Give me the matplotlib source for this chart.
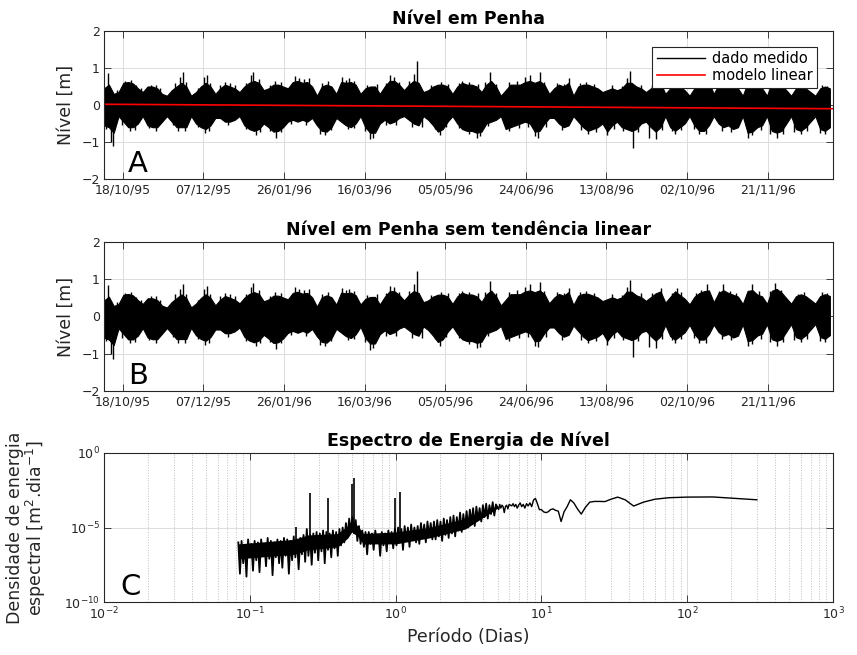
import datetime as dt
import numpy as np
import matplotlib
matplotlib.use('Agg')
import matplotlib.pyplot as plt
import matplotlib.dates as mdates
from matplotlib.lines import Line2D
from matplotlib.ticker import LogLocator, NullLocator

plt.rcParams['font.family'] = ['DejaVu Sans']
plt.rcParams['mathtext.fontset'] = 'dejavusans'

# --- sea level at Penha (m)
# envelope of the tidal band, one high/low pair every 3 days
record_start = dt.datetime(1995, 10, 6, 12)
record_days = 452
step_days = 3
level_max = [0.45, 0.55, 0.3, 0.35, 0.6, 0.62, 0.58, 0.45, 0.35, 0.5,
             0.5, 0.45, 0.3, 0.25, 0.4, 0.5, 0.6, 0.5, 0.25, 0.35,
             0.5, 0.6, 0.5, 0.3, 0.45, 0.55, 0.5, 0.45, 0.35, 0.5,
             0.6, 0.65, 0.6, 0.4, 0.45, 0.55, 0.55, 0.5, 0.45, 0.62,
             0.65, 0.6, 0.62, 0.5, 0.25, 0.5, 0.55, 0.5, 0.3, 0.62,
             0.6, 0.62, 0.55, 0.3, 0.45, 0.5, 0.5, 0.3, 0.5, 0.65,
             0.65, 0.55, 0.4, 0.55, 0.65, 0.6, 0.35, 0.4, 0.5, 0.55,
             0.55, 0.5, 0.3, 0.5, 0.6, 0.55, 0.55, 0.5, 0.35, 0.55,
             0.65, 0.5, 0.25, 0.4, 0.55, 0.55, 0.55, 0.62, 0.65, 0.6,
             0.65, 0.55, 0.3, 0.45, 0.55, 0.5, 0.6, 0.25, 0.5, 0.55,
             0.55, 0.5, 0.45, 0.35, 0.4, 0.45, 0.4, 0.45, 0.6, 0.6,
             0.5, 0.45, 0.35, 0.45, 0.55, 0.6, 0.3, 0.45, 0.6, 0.5,
             0.4, 0.25, 0.45, 0.55, 0.6, 0.62, 0.3, 0.55, 0.62, 0.55,
             0.5, 0.45, 0.25, 0.6, 0.62, 0.5, 0.45, 0.25, 0.6, 0.65,
             0.55, 0.4, 0.25, 0.45, 0.5, 0.45, 0.35, 0.25, 0.45, 0.5,
             0.45]
level_min = [-0.55, -0.6, -0.75, -0.3, -0.45, -0.6, -0.6, -0.5, -0.3, -0.55,
             -0.6, -0.6, -0.45, -0.3, -0.45, -0.6, -0.6, -0.6, -0.3, -0.5,
             -0.6, -0.65, -0.55, -0.35, -0.35, -0.45, -0.45, -0.4, -0.3, -0.55,
             -0.65, -0.7, -0.65, -0.5, -0.6, -0.72, -0.7, -0.6, -0.45, -0.4,
             -0.45, -0.4, -0.45, -0.35, -0.55, -0.7, -0.72, -0.6, -0.35, -0.45,
             -0.55, -0.6, -0.5, -0.3, -0.6, -0.75, -0.75, -0.5, -0.4, -0.5,
             -0.45, -0.35, -0.3, -0.4, -0.5, -0.55, -0.3, -0.4, -0.55, -0.72,
             -0.65, -0.45, -0.3, -0.5, -0.65, -0.7, -0.7, -0.75, -0.72, -0.5,
             -0.45, -0.4, -0.3, -0.65, -0.6, -0.55, -0.5, -0.45, -0.5, -0.72,
             -0.7, -0.5, -0.35, -0.35, -0.5, -0.6, -0.55, -0.3, -0.45, -0.6,
             -0.7, -0.65, -0.6, -0.5, -0.72, -0.55, -0.45, -0.6, -0.65, -0.7,
             -0.65, -0.5, -0.45, -0.6, -0.72, -0.6, -0.3, -0.6, -0.7, -0.6,
             -0.5, -0.3, -0.55, -0.7, -0.7, -0.55, -0.3, -0.5, -0.6, -0.55,
             -0.65, -0.6, -0.3, -0.75, -0.72, -0.6, -0.55, -0.3, -0.7, -0.75,
             -0.7, -0.5, -0.3, -0.65, -0.7, -0.6, -0.45, -0.3, -0.65, -0.7,
             -0.6]
# single high and low tides reaching out of the band (day from start, m)
high_day = [2.5, 8, 13, 17, 20, 23, 29, 32, 35, 44,
            47, 48.8, 51, 58, 62, 63.7, 66, 72, 75, 78,
            81, 88, 91, 92.5, 96, 103, 106, 110, 118.5, 121,
            124, 127, 135, 139, 147.5, 150, 152, 155, 163, 169,
            175, 177, 180, 183, 189, 192, 194.3, 203, 209, 213,
            220, 222, 226, 232, 236, 239.5, 243, 251, 256, 261,
            264, 270, 273, 281, 285, 288, 295, 299, 304, 315,
            321, 324, 326.3, 333, 340, 345, 352, 355, 358, 367,
            370, 374, 381, 384, 388, 392, 401.5, 406, 413, 416,
            420, 430, 434, 445, 448]
high_level = [0.86, 0.4, 0.65, 0.68, 0.55, 0.45, 0.55, 0.55, 0.45, 0.6,
              0.75, 0.88, 0.62, 0.45, 0.75, 0.82, 0.6, 0.55, 0.62, 0.6,
              0.55, 0.6, 0.8, 0.9, 0.7, 0.55, 0.65, 0.62, 0.78, 0.72,
              0.7, 0.72, 0.6, 0.65, 0.75, 0.68, 0.72, 0.65, 0.55, 0.58,
              0.6, 0.8, 0.75, 0.62, 0.65, 0.85, 1.2, 0.55, 0.62, 0.58,
              0.6, 0.65, 0.62, 0.58, 0.62, 0.9, 0.58, 0.62, 0.65, 0.75,
              0.82, 0.88, 0.62, 0.6, 0.58, 0.72, 0.6, 0.62, 0.58, 0.55,
              0.52, 0.72, 0.92, 0.55, 0.55, 0.68, 0.55, 0.68, 0.58, 0.55,
              0.62, 0.78, 0.6, 0.78, 0.6, 0.55, 0.78, 0.6, 0.6, 0.82,
              0.62, 0.52, 0.55, 0.55, 0.52]
low_day = [1, 4.5, 5.6, 11, 16, 19, 28, 32, 43, 46,
           50, 58, 62.5, 65, 77, 88, 94, 97, 103, 106.7,
           110, 116, 125, 134, 137, 141, 151, 155, 162, 165,
           167, 175, 181, 191, 197, 205, 208, 212, 220, 226,
           231, 233, 238, 251, 257, 263, 267, 269, 274, 284,
           296, 300, 305, 312, 316, 322, 328, 331, 338, 342,
           346, 352, 354, 358, 366, 369, 373, 383, 389, 399,
           402, 407, 413, 417, 421, 428, 432, 436, 444, 447]
low_level = [-0.65, -1.0, -1.12, -0.55, -0.7, -0.68, -0.62, -0.7, -0.55, -0.7,
             -0.7, -0.6, -0.75, -0.7, -0.55, -0.65, -0.8, -0.72, -0.7, -0.88,
             -0.72, -0.5, -0.55, -0.78, -0.82, -0.68, -0.65, -0.62, -0.7, -0.92,
             -0.88, -0.55, -0.55, -0.6, -0.6, -0.65, -0.82, -0.6, -0.62, -0.78,
             -0.88, -0.85, -0.58, -0.7, -0.62, -0.6, -0.85, -0.88, -0.6, -0.68,
             -0.68, -0.78, -0.72, -0.82, -0.65, -0.7, -1.15, -0.72, -0.88, -0.92,
             -0.68, -0.7, -0.78, -0.68, -0.65, -0.78, -0.78, -0.7, -0.72, -0.88,
             -0.82, -0.68, -0.78, -0.88, -0.78, -0.72, -0.78, -0.7, -0.75, -0.78]
trend_ends = [0.02, -0.10]   # linear model at start and end of record (m)

tick_dates = ['18/10/95', '07/12/95', '26/01/96', '16/03/96', '05/05/96',
              '24/06/96', '13/08/96', '02/10/96', '21/11/96']

# --- energy spectrum, log10 of density (m^2.dia^-1)
# high-frequency part, log-spaced periods from 2 h to 5 days
fast_first, fast_last = 300.0 / 3600, 5.0
fast_level = [-6.0, -8.1, -5.9, -7.4, -6.2, -8.3, -5.8, -7.0, -6.1, -7.9,
              -5.9, -7.2, -6.0, -8.0, -5.8, -6.9, -6.1, -7.6, -5.7, -7.1,
              -5.9, -8.2, -6.0, -7.0, -5.8, -7.4, -5.9, -7.7, -5.7, -6.9,
              -5.8, -8.1, -5.9, -7.2, -5.6, -7.0, -5.8, -7.8, -5.7, -6.8,
              -5.5, -7.3, -5.1, -6.9, -5.5, -7.5, -5.4, -6.7, -5.3, -7.2,
              -5.4, -6.6, -5.2, -7.4, -5.3, -6.5, -5.4, -7.0, -5.2, -6.4,
              -5.3, -6.9, -5.1, -6.2, -5.0, -6.0, -4.7, -5.6, -4.4, -5.3,
              -4.3, -5.4, -4.5, -5.9, -4.9, -6.1, -5.2, -6.3, -5.3, -6.8,
              -5.3, -6.1, -5.4, -6.5, -5.2, -6.0, -5.5, -6.9, -5.3, -6.2,
              -5.4, -6.6, -5.2, -6.0, -5.3, -6.4, -5.1, -6.2, -5.0, -6.0,
              -5.1, -6.5, -4.9, -5.9, -5.0, -6.3, -4.8, -5.8, -5.0, -6.0,
              -4.9, -6.1, -4.7, -5.7, -4.8, -6.0, -4.6, -5.6, -4.7, -5.8,
              -4.6, -5.8, -4.5, -5.6, -4.6, -5.9, -4.4, -5.5, -4.5, -5.7,
              -4.3, -5.4, -4.2, -5.6, -4.3, -5.2, -4.0, -5.3, -4.1, -5.0,
              -3.9, -5.0, -3.8, -4.7, -3.7, -4.9, -3.6, -4.5, -3.7, -4.6,
              -3.5, -4.3, -3.4, -4.4, -3.5, -4.1, -3.3, -4.2, -3.45, -3.65]
# where the noise is densest, the band it fills solid
core_period = [0.0834, 0.2, 0.25, 0.4, 0.47, 0.5, 0.55, 0.6, 1.0, 1.7, 3.0, 5.0]
core_top = [-6.1, -5.8, -5.5, -5.4, -4.9, -4.5, -4.9, -5.4, -5.3, -5.0, -4.4, -3.55]
core_bottom = [-7.1, -6.8, -6.5, -6.3, -5.7, -5.3, -5.6, -6.1, -6.1, -5.7, -5.1, -3.7]

# tidal lines standing out of the background
spike_period = [0.208, 0.2588, 0.3448, 0.5, 0.5175, 0.9973, 1.0758]
spike_top = [-4.95, -2.69, -3.03, -2.1, -1.68, -3.03, -2.65]
spike_base = [-6.0, -5.5, -5.8, -5.0, -5.0, -5.6, -5.6]

# low-frequency bins of a 300-day window, k = 1..60
window_days = 300.0
slow_level = [-3.14, -2.95, -2.96, -3.0, -3.1, -3.3, -3.56, -3.14, -2.96, -3.1,
              -3.26, -3.25, -3.25, -3.3, -3.65, -4.1, -3.75, -3.35, -3.14, -3.6,
              -3.95, -4.6, -3.9, -3.85, -3.75, -3.8, -3.95, -4.0, -3.95, -3.8,
              -3.8, -3.4, -3.05, -3.15, -3.6, -3.35, -3.55, -3.4, -3.7, -3.45,
              -3.6, -3.35, -3.5, -3.7, -3.45, -3.6, -3.4, -3.55, -3.5, -3.45,
              -3.75, -3.5, -3.6, -4.0, -3.6, -3.5, -3.7, -3.45, -3.8, -3.65]

ink = '#262626'


def style(ax):
    ax.tick_params(direction='in', length=5.2, width=0.6, top=True, right=True,
                   labelsize=9, colors=ink, pad=3)
    for s in ax.spines.values():
        s.set_color(ink)
        s.set_linewidth(0.8)
    ax.grid(True, color='#dcdcdc', lw=0.7)
    ax.set_axisbelow(True)


def linear_model(day):
    return trend_ends[0] + (trend_ends[1] - trend_ends[0]) * np.asarray(day) / record_days


fig = plt.figure(figsize=(8.57, 6.55), dpi=100)
ax_a = fig.add_axes([0.1214, 0.7267, 0.8507, 0.226])
ax_b = fig.add_axes([0.1214, 0.4031, 0.8507, 0.2275])
ax_c = fig.add_axes([0.1214, 0.0809, 0.8507, 0.2275])

t0 = mdates.date2num(record_start)
days = np.arange(len(level_max)) * step_days
tick_pos = [mdates.date2num(dt.datetime.strptime(s, '%d/%m/%y')) for s in tick_dates]
upper = np.array(level_max)
lower = np.array(level_min)
needle_day = np.array(high_day + low_day)
needle_level = np.array(high_level + low_level)

panels = [(ax_a, 0.0, 'Nível em Penha', 'A'),
          (ax_b, 1.0, 'Nível em Penha sem tendência linear', 'B')]
for ax, detrend, title, letter in panels:
    off = detrend * linear_model(days)
    ax.fill_between(t0 + days, lower - off, upper - off, color='k', lw=0.8)
    ax.vlines(t0 + needle_day, 0.0,
              needle_level - detrend * linear_model(needle_day), color='k', lw=1.0)
    ax.set_xlim(t0, t0 + record_days)
    ax.set_ylim(-2, 2)
    ax.set_yticks([-2, -1, 0, 1, 2])
    ax.set_xticks(tick_pos)
    ax.set_xticklabels(tick_dates)
    style(ax)
    ax.set_ylabel('Nível [m]', fontsize=12.5, color=ink)
    ax.yaxis.set_label_coords(-0.04, 0.5)
    ax.set_title(title, fontsize=12.5, fontweight='bold', pad=5)
    ax.text(0.033, 0.05, letter, transform=ax.transAxes, fontsize=21, va='baseline')

ends = np.array([0, record_days])
red, = ax_a.plot(t0 + ends, linear_model(ends), color='#ff0000', lw=1.2)
leg = ax_a.legend([Line2D([], [], color='k', lw=1), red], ['dado medido', 'modelo linear'],
                  loc='upper right', bbox_to_anchor=(0.978, 0.894), borderaxespad=0,
                  fontsize=10.5, fancybox=False, framealpha=1, edgecolor=ink,
                  handlelength=3.3, borderpad=0.3, labelspacing=0.15, handletextpad=0.5)
leg.get_frame().set_linewidth(0.8)

# spectrum panel
ax_c.set_xscale('log')
ax_c.set_yscale('log')
ax_c.fill_between(core_period, 10.0 ** np.array(core_bottom), 10.0 ** np.array(core_top),
                  color='k', lw=0)
fast_period = np.geomspace(fast_first, fast_last, len(fast_level))
ax_c.plot(fast_period, 10.0 ** np.array(fast_level), color='k', lw=1.3)
ax_c.vlines(spike_period, 10.0 ** np.array(spike_base), 10.0 ** np.array(spike_top),
            color='k', lw=1.2)
slow_period = window_days / np.arange(1, len(slow_level) + 1)
ax_c.plot(slow_period, 10.0 ** np.array(slow_level), color='k', lw=1)

ax_c.set_xlim(1e-2, 1e3)
ax_c.set_ylim(1e-10, 1e0)
ax_c.set_yticks([1e-10, 1e-5, 1e0])
ax_c.yaxis.set_minor_locator(NullLocator())
ax_c.xaxis.set_minor_locator(LogLocator(base=10, subs=np.arange(2, 10), numticks=20))
style(ax_c)
ax_c.tick_params(which='minor', length=0)
ax_c.grid(True, which='minor', axis='x', ls=':', color='#bdbdbd', lw=0.7)
ax_c.set_title('Espectro de Energia de Nível', fontsize=12.5, fontweight='bold', pad=5)
ax_c.set_xlabel('Período (Dias)', fontsize=12.5, color=ink)
ax_c.set_ylabel('Densidade de energia\nespectral [m$^2$.dia$^{-1}$]', fontsize=12.5,
                color=ink, linespacing=1.0)
ax_c.yaxis.set_label_coords(-0.077, 0.5)
ax_c.text(0.022, 0.05, 'C', transform=ax_c.transAxes, fontsize=21, va='baseline')

fig.savefig('out.png', dpi=100)
